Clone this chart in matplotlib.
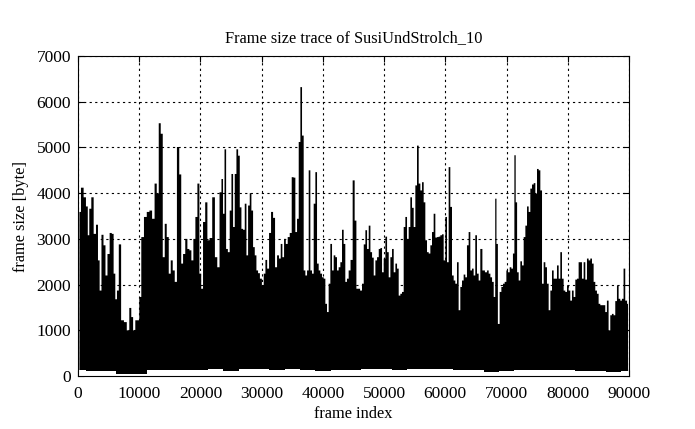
import numpy as np
import matplotlib
matplotlib.use("Agg")
import matplotlib.pyplot as plt

# ---- data: upper envelope of the frame-size trace (frame index, bytes) ----
peak_frames = [
    160, 650, 1030, 1410, 1630, 1900, 2290, 2670, 3050, 3320, 3590, 3920, 4250, 4570, 4900,
    5280, 5600, 5880, 6150, 6420, 6750, 7180, 7670, 8110, 8490, 8760, 9090, 9470, 9790,
    10070, 10450, 10940, 11370, 11810, 12240, 12620, 12950, 13270, 13600, 13930, 14250,
    14580, 14910, 15230, 15560, 15890, 16270, 16650, 16920, 17250, 17630, 17950, 18280,
    18600, 18930, 19260, 19590, 19910, 20180, 20510, 20890, 21220, 21600, 22090,
    22480, 22860, 23220, 23490, 23730, 23980, 24250, 24550, 24850, 25120, 25390, 25660,
    25940, 26210, 26480, 26750, 27020, 27300, 27570, 27840, 28110, 28380, 28660, 28930,
    29200, 29470, 29800, 30120, 30400, 30670, 30970, 31290, 31620, 31950, 32270, 32600,
    32900, 33170, 33440, 33720, 34010, 34340, 34670, 34990, 35290, 35560, 35840, 36110,
    36380, 36650, 36920, 37200, 37470, 37740, 38010, 38280, 38560, 38830, 39100, 39370,
    39640, 39920, 40190, 40460, 40730, 41000, 41280, 41550, 41820, 42090, 42360, 42640,
    42910, 43180, 43450, 43720, 43990, 44270,
    44610, 44960, 45260, 45530, 45830, 46160, 46460, 46730, 47000, 47270, 47550, 47820,
    48090, 48360, 48630, 48910, 49180, 49450, 49720, 49990, 50270, 50540, 50810, 51080,
    51350, 51630, 51900, 52170, 52440, 52710, 52980, 53260, 53530, 53800, 54070, 54340,
    54620, 54890, 55160, 55430, 55710, 55980, 56250, 56520, 56790, 57070, 57340, 57610,
    57880, 58150, 58430, 58700, 58970, 59240, 59510, 59790, 60060, 60330, 60600, 60870,
    61150, 61420, 61690, 61960, 62230, 62510, 62780, 63050, 63320, 63590, 63870, 64140,
    64410, 64680, 64950, 65230, 65500, 65770, 66180,
    66600, 66870, 67140, 67420, 67690, 67960, 68180, 68370, 68640, 68940, 69210, 69480,
    69750, 70030, 70300, 70570, 70840, 71090, 71310, 71520, 71770, 72040, 72310, 72580,
    72860, 73130, 73400, 73670, 73940, 74220, 74490, 74760, 75030, 75300, 75580, 75850,
    76120, 76390, 76660, 76940, 77210, 77480, 77750, 78020, 78300, 78570, 78840, 79110,
    79380, 79660, 79930, 80200, 80470, 80740, 81020, 81290, 81560, 81830, 82100, 82380,
    82650, 82920, 83190, 83460, 83740, 84010, 84280, 84550, 84820, 85100, 85370, 85640,
    85910, 86180, 86450, 86730, 87000, 87270, 87540, 87820, 88090, 88360, 88630, 88900,
    89170, 89450, 89770,
]
peak_bytes = [
    3600, 4130, 3920, 3720, 3090, 3670, 3920, 3120, 3320, 2540, 1880, 3100, 2870, 2210, 2680,
    3140, 3120, 2250, 1690, 1880, 2890, 1230, 1190, 1010, 1500, 1300, 1010, 1230, 1230,
    1740, 3050, 3490, 3600, 3630, 3450, 4220, 4000, 5540, 5310, 2610, 3340,
    3050, 2250, 2540, 2320, 2070, 5020, 4420, 2470, 2680, 3010, 2790, 2760,
    2540, 3010, 3490, 4220, 2250, 1920, 3380, 3810, 2980, 3030, 3920,
    2610, 2390, 4030, 4320, 3560, 4970, 2790, 2720, 3630, 4430, 3270, 4430,
    4970, 4830, 3700, 3230, 3210, 3780, 2650, 3740, 4010, 3630, 2830, 2650,
    2320, 2260, 2140, 1990, 2250, 2550, 2360, 3140, 3600, 3470, 2390, 2650,
    2580, 2900, 2610, 3010, 2900, 3050, 3140, 4360, 4350, 3160, 3450, 5130,
    6330, 5270, 2320, 2210, 2320, 4510, 2320, 2250, 3780, 4470, 2470, 2320,
    2250, 2170, 2140, 1590, 1410, 2030, 2900, 2320, 2650, 2610, 2320, 2390,
    2500, 3210, 2900, 2070, 2140, 2320,
    2550, 4290, 3410, 1920, 1920, 1880, 2030, 2890, 3200, 2790, 3300, 2720,
    2600, 2210, 2540, 2610, 2790, 2810, 2280, 2580, 3060, 2720, 2170, 2610,
    2790, 2280, 2470, 2360, 1770, 1810, 1850, 3270, 3490, 3010, 3270, 3920,
    3690, 3270, 4180, 5050, 4220, 4070, 4250, 3810, 2980, 2720, 2690, 2870,
    3160, 3560, 3040, 3050, 3060, 3090, 3110, 2540, 3490, 2500, 4580, 3710,
    2210, 2100, 2030, 2500, 1450, 1960, 2100, 2230, 2170, 2870, 3160, 2320,
    2360, 2210, 3090, 2250, 2100, 2790, 2320,
    2280, 2320, 2250, 2170, 2070, 1740, 3890, 2900, 1150, 1850, 1960, 2030,
    2070, 2320, 2280, 2390, 2360, 2690, 4840, 3810, 2280, 2100, 2520, 2430,
    3050, 3300, 3720, 3600, 4110, 4200, 4230, 4000, 4540, 4510, 4070, 2030,
    2500, 2390, 2030, 1450, 1880, 2320, 2140, 2140, 2430, 2140, 2720, 2140,
    1880, 1850, 1990, 1880, 1660, 1880, 1740, 2120, 2140, 2500, 2500, 2140,
    2500, 2120, 2580, 2540, 2580, 2470, 2070, 1880, 1810, 1590, 1560, 1560,
    1560, 1410, 1660, 1010, 1340, 1370, 1340, 1650, 1990, 1700, 1660, 1700,
    2360, 1660, 1590,
]

# ---- data: lower envelope (smallest frames), frame index and bytes ----
low_frames = list(range(0, 92500, 2500))
low_bytes = [130, 120, 110, 40, 50, 130, 140, 140, 130, 150, 120, 150, 150, 140, 150,
             140, 120, 130, 140, 145, 145, 140, 145, 145, 145, 140, 130, 90, 120, 130,
             130, 130, 130, 120, 100, 90, 100]

x_ticks = [0, 10000, 20000, 30000, 40000, 50000, 60000, 70000, 80000, 90000]
y_ticks = [0, 1000, 2000, 3000, 4000, 5000, 6000, 7000]

title = "Frame size trace of SusiUndStrolch_10"
xlabel = "frame index"
ylabel = "frame size [byte]"

plt.rcParams['font.family'] = ['Liberation Serif', 'DejaVu Serif']

fig = plt.figure(figsize=(6.95, 4.29), dpi=100)
ax = fig.add_axes([0.1122, 0.1235, 0.7928, 0.746])

ax.fill_between(peak_frames, 0, peak_bytes, step='mid', color='black', linewidth=0, zorder=2)
ax.fill_between(low_frames, 0, low_bytes, step='mid', color='white', linewidth=0, zorder=2.1)

ax.set_xlim(0, 90000)
ax.set_ylim(0, 7000)
ax.set_xticks(x_ticks)
ax.set_yticks(y_ticks)
ax.set_xticklabels([str(v) for v in x_ticks])
ax.set_yticklabels([str(v) for v in y_ticks])

ax.grid(True, color='black', linestyle=(0, (2, 3)), linewidth=0.8, zorder=1)
ax.set_axisbelow(True)
ax.tick_params(direction='in', length=4, width=0.8, top=True, right=True,
               labelsize=12.5, colors='black')
ax.tick_params(axis='x', pad=7)
ax.tick_params(axis='y', pad=5)
for s in ax.spines.values():
    s.set_linewidth(0.8)
    s.set_zorder(3)

ax.set_title(title, fontsize=11.8, pad=10)
ax.set_xlabel(xlabel, fontsize=11.8, labelpad=3)
ax.set_ylabel(ylabel, fontsize=11.8, labelpad=5)

fig.savefig("out.png", dpi=100)
